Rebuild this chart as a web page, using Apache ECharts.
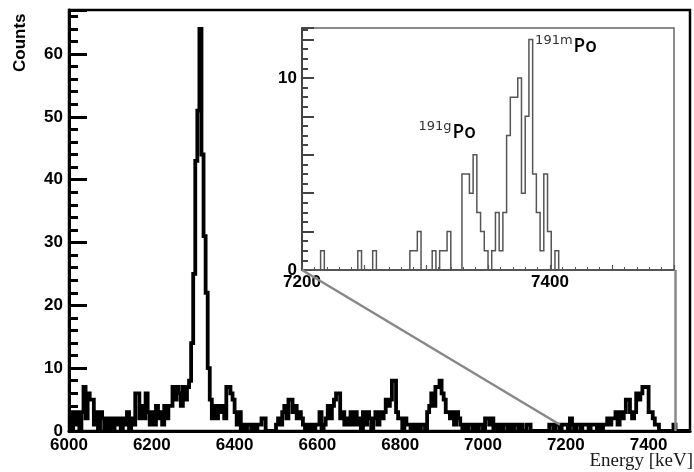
<!DOCTYPE html>
<html>
<head>
<meta charset="utf-8">
<script src="https://cdn.jsdelivr.net/npm/echarts@6/dist/echarts.min.js"></script>
<style>
  html, body { margin: 0; padding: 0; background: #fff; }
  #main { width: 694px; height: 472px; }
</style>
</head>
<body>
<div id="main"></div>
<script>
  // 全谱: 6000-7500 keV, 5 keV 一个 bin
  var mainStart = 6000
  var mainBin = 5
  var mainCounts = [
    3,0,3,1,3,0,3,7,2,6,5,5,1,3,0,3,2,0,2,0,        // 6000
    2,0,2,1,2,0,2,1,3,0,2,1,6,6,2,4,2,6,3,1,        // 6100
    3,1,4,2,3,1,4,2,4,4,7,5,7,6,4,7,5,7,8,14,       // 6200
    25,43,51,64,44,31,22,10,5,2,4,2,4,3,4,2,7,7,6,5, // 6300
    3,1,3,0,1,0,1,1,0,1,0,1,1,2,2,0,0,0,0,0,        // 6400
    1,2,1,3,4,2,5,5,3,4,2,3,2,1,0,1,0,1,0,1,        // 6500
    1,3,0,1,2,4,2,4,5,6,6,2,3,1,2,1,3,1,3,1,        // 6600
    2,0,3,1,3,2,0,2,3,1,3,2,3,5,4,5,8,8,3,2,        // 6700
    2,0,2,1,1,0,1,0,1,0,1,1,0,3,4,6,4,7,7,8,        // 6800
    6,5,3,3,2,3,1,3,2,1,0,1,0,1,1,0,1,0,1,1,        // 6900
    0,2,2,1,2,0,1,0,1,0,1,1,0,1,0,1,1,0,1,0,        // 7000
    0,1,1,0,0,0,0,0,0,0,0,0,1,1,0,1,1,0,1,1,        // 7100
    1,0,2,1,0,1,1,0,1,1,1,0,1,1,1,0,1,0,1,1,        // 7200
    2,1,2,2,3,1,3,2,3,5,5,3,2,3,6,5,6,7,7,7,        // 7300
    3,3,2,1,1,0,0,0,0,0,0,0,1,0,0,0,0,0,0,0         // 7400
  ]
  // 放大区: 7200-7500 keV, 3 keV 一个 bin
  var zoomStart = 7200
  var zoomBin = 3
  var zoomCounts = [
    0,0,0,0,0,1,0,0,0,0,      // 7200
    0,0,0,0,0,1,0,0,0,1,      // 7230
    0,0,0,0,0,0,0,0,0,1,      // 7260
    1,2,0,0,0,1,0,1,1,2,      // 7290
    0,0,0,5,5,4,6,3,2,1,      // 7320
    0,1,3,1,3,7,9,9,10,4,     // 7350
    8,12,5,3,1,5,2,0,1,0,     // 7380
    0,0,0,0,0,0,0,0,0,0,      // 7410
    0,0,0,0,0,0,0,0,0,0,      // 7440
    0,0,0,0,0,0,0,0,0,0       // 7470
  ]
  var mainXLabels = [6000, 6200, 6400, 6600, 6800, 7000, 7200, 7400]
  var mainYLabels = [0, 10, 20, 30, 40, 50, 60]
  var zoomXLabels = [7200, 7400]
  var zoomYLabels = [0, 10]
  var peakNames = [
    { sup: '191g', name: 'Po', x: 7294, y: 7.8 },
    { sup: '191m', name: 'Po', x: 7388, y: 12.3 }
  ]

  function toSteps (start, bin, counts) {
    var pts = []
    counts.forEach(function (c, i) {
      pts.push([start + i * bin, c])
    })
    pts.push([start + counts.length * bin, counts[counts.length - 1]])
    return pts
  }

  var labelFont = {
    color: '#000',
    fontWeight: 'bold',
    fontSize: 17,
    fontFamily: 'Liberation Sans'
  }

  var myChart = echarts.init(document.getElementById('main'))
  var option = {
    animation: false,
    grid: [
      { left: 69, top: 10, right: 4, bottom: 41, show: true, borderColor: '#000', borderWidth: 2.5 },
      { left: 302, top: 28, right: 20, bottom: 202, show: true, backgroundColor: '#fff', borderColor: '#666', borderWidth: 1.5 }
    ],
    xAxis: [
      {
        type: 'value', gridIndex: 0, min: 6000, max: 7500, interval: 200,
        axisLine: { lineStyle: { color: '#000', width: 3 } },
        axisTick: { show: false },
        splitLine: { show: false },
        axisLabel: Object.assign({
          margin: 6, showMaxLabel: false,
          formatter: function (v) { return mainXLabels.indexOf(v) >= 0 ? String(v) : '' }
        }, labelFont)
      },
      {
        type: 'value', gridIndex: 1, min: 7200, max: 7500, interval: 50,
        axisLine: { lineStyle: { color: '#555', width: 2 } },
        axisTick: { inside: true, length: 5, lineStyle: { color: '#555', width: 1.2 } },
        minorTick: { show: true, splitNumber: 5, length: 3, lineStyle: { color: '#555', width: 1 } },
        splitLine: { show: false },
        axisLabel: Object.assign({
          margin: 4, showMaxLabel: false,
          formatter: function (v) { return zoomXLabels.indexOf(v) >= 0 ? String(v) : '' }
        }, labelFont)
      }
    ],
    yAxis: [
      {
        type: 'value', gridIndex: 0, min: 0, max: 67, interval: 10,
        axisLine: { lineStyle: { color: '#000', width: 3 } },
        axisTick: { inside: true, length: 18, lineStyle: { color: '#000', width: 3 } },
        minorTick: { show: true, splitNumber: 5, length: 9, lineStyle: { color: '#000', width: 3 } },
        splitLine: { show: false },
        axisLabel: Object.assign({
          margin: 6, showMaxLabel: false,
          formatter: function (v) { return mainYLabels.indexOf(v) >= 0 ? String(v) : '' }
        }, labelFont)
      },
      {
        type: 'value', gridIndex: 1, min: 0, max: 12.6, interval: 2,
        axisLine: { lineStyle: { color: '#444', width: 2 } },
        axisTick: { inside: true, length: 12, lineStyle: { color: '#444', width: 2 } },
        minorTick: { show: true, splitNumber: 4, length: 6, lineStyle: { color: '#444', width: 2 } },
        splitLine: { show: false },
        axisLabel: Object.assign({
          margin: 5, showMaxLabel: false,
          formatter: function (v) { return zoomYLabels.indexOf(v) >= 0 ? String(v) : '' }
        }, labelFont)
      }
    ],
    series: [
      {
        type: 'line', xAxisIndex: 0, yAxisIndex: 0, step: 'end', symbol: 'none',
        lineStyle: { color: '#000', width: 3.8, join: 'miter' },
        data: toSteps(mainStart, mainBin, mainCounts)
      },
      {
        type: 'line', xAxisIndex: 1, yAxisIndex: 1, step: 'end', symbol: 'none',
        lineStyle: { color: '#555', width: 1.5, join: 'miter' },
        data: toSteps(zoomStart, zoomBin, zoomCounts)
      }
    ]
  }
  myChart.setOption(option)

  // 连接线和文字标注
  var ctx = document.createElement('canvas').getContext('2d')
  function textWidth (t, font) {
    ctx.font = font
    return ctx.measureText(t).width
  }
  var supFont = '13px "DejaVu Sans"'
  var nameFont = '600 19px "Open Sans"'

  var insetCorner = myChart.convertToPixel({ gridIndex: 1 }, [7200, 0])
  var mainLeft = myChart.convertToPixel({ gridIndex: 0 }, [7186, 1])
  var mainRight = myChart.convertToPixel({ gridIndex: 0 }, [7465, 0])
  var insetRight = myChart.convertToPixel({ gridIndex: 1 }, [7500, 0])

  var graphics = [
    {
      type: 'line', z: 10,
      shape: { x1: insetCorner[0], y1: insetCorner[1], x2: mainLeft[0], y2: mainLeft[1] },
      style: { stroke: '#888', lineWidth: 2.5 }
    },
    {
      type: 'line', z: 10,
      shape: { x1: mainRight[0], y1: insetRight[1], x2: mainRight[0], y2: mainRight[1] },
      style: { stroke: '#888', lineWidth: 2.5 }
    },
    {
      type: 'text', x: 20, y: 72, rotation: Math.PI / 2,
      style: { text: 'Counts', font: 'bold 17px "Liberation Sans"', fill: '#000', textAlign: 'left', textVerticalAlign: 'middle', align: 'left', verticalAlign: 'middle' }
    },
    {
      type: 'text', x: 693, y: 461,
      style: { text: 'Energy [keV]', font: '19px "Liberation Serif"', fill: '#1a1a1a', textAlign: 'right', textVerticalAlign: 'middle', align: 'right', verticalAlign: 'middle' }
    }
  ]
  peakNames.forEach(function (p) {
    var pos = myChart.convertToPixel({ gridIndex: 1 }, [p.x, p.y])
    var w = textWidth(p.sup, supFont)
    graphics.push({
      type: 'text', x: pos[0], y: pos[1], z: 10,
      style: { text: p.sup, font: supFont, fill: '#333', textAlign: 'left', textVerticalAlign: 'top', align: 'left', verticalAlign: 'top' }
    })
    graphics.push({
      type: 'text', x: pos[0] + w + 1, y: pos[1] + 3, z: 10,
      style: { text: p.name, font: nameFont, fill: '#000', textAlign: 'left', textVerticalAlign: 'top', align: 'left', verticalAlign: 'top' }
    })
  })
  myChart.setOption({ graphic: graphics })
</script>
</body>
</html>
